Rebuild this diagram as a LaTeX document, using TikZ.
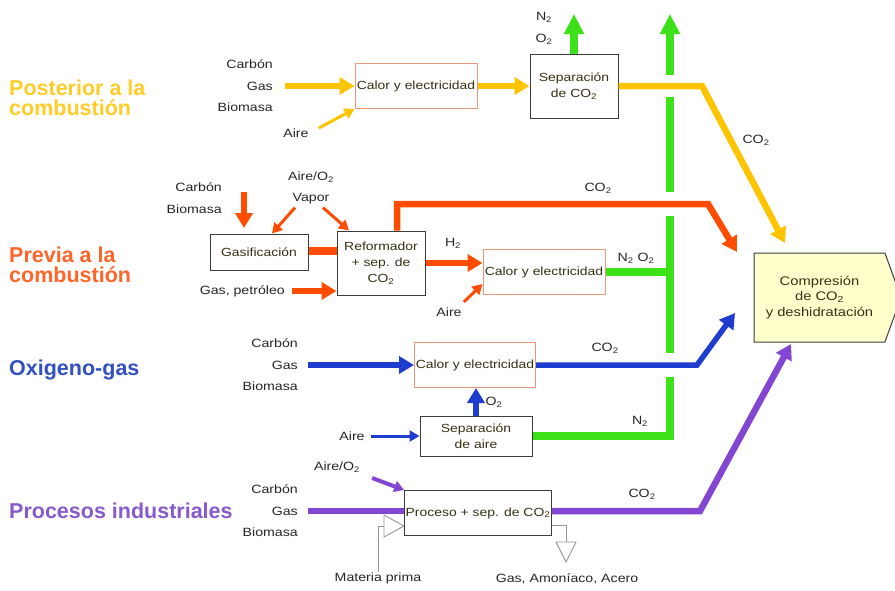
\documentclass[tikz,border=0pt]{standalone}
\usepackage{fontspec}
\setmainfont{Liberation Sans}
\newfontfamily\lblfont[FakeStretch=1.18]{Liberation Sans}
\usetikzlibrary{arrows.meta,shapes.symbols}

\definecolor{cyel}{RGB}{255,196,0}
\definecolor{cred}{RGB}{255,76,0}
\definecolor{cblue}{RGB}{30,60,205}
\definecolor{cgreen}{RGB}{60,225,25}
\definecolor{cpurp}{RGB}{130,70,210}
\definecolor{tyel}{RGB}{255,204,40}
\definecolor{tred}{RGB}{255,100,40}
\definecolor{tblue}{RGB}{50,80,190}
\definecolor{tpurp}{RGB}{135,90,205}
\definecolor{boxorange}{RGB}{235,150,120}
\definecolor{boxgray}{RGB}{60,60,60}
\definecolor{compfill}{RGB}{255,255,204}
\definecolor{boxtext}{RGB}{55,48,20}
\definecolor{feedgray}{RGB}{150,150,150}

\begin{document}
\begin{tikzpicture}[x=1pt,y=-1pt,
  title/.style={anchor=west, align=left, inner sep=0pt,
    font=\fontsize{21.5}{20}\selectfont\bfseries},
  lbl/.style={inner sep=0pt, text=black!85,
    font=\lblfont\fontsize{12}{21.5}\selectfont},
  src/.style={lbl, anchor=east, align=right},
  procbox/.style={draw=boxgray, line width=1pt, fill=white, align=center,
    inner sep=1pt, text=boxtext, font=\lblfont\fontsize{11.8}{16}\selectfont},
  heatbox/.style={procbox, draw=boxorange},
  compbox/.style={signal, signal to=east, signal pointer angle=140,
    draw=boxgray, line width=1pt, fill=compfill, align=center, text=boxtext,
    inner sep=1pt, font=\lblfont\fontsize{12.5}{15.5}\selectfont},
  flowline/.style={line width=6.5pt},
  flowarrow/.style={flowline, -{Triangle[length=15pt,width=17pt]}},
  thinarrow/.style={line width=3pt, -{Triangle[length=10pt,width=11pt]}},
  gline/.style={draw=cgreen, line width=7.5pt},
  garrow/.style={gline, -{Triangle[length=20pt,width=19pt]}},
  feedline/.style={draw=feedgray, line width=0.9pt},
  feedtri/.style={draw=feedgray, line width=0.9pt, fill=white, line join=round}]

\useasboundingbox (0,0) rectangle (895,590);

% ---------- route titles ----------
\node[title, text=tyel]  (tpost) at (9,98)  {Posterior a la\\combustión};
\node[title, text=tred]  (tpre)  at (9,265) {Previa a la\\combustión};
\node[title, text=tblue] (toxy)  at (9,370) {Oxigeno-gas};
\node[title, text=tpurp] (tind)  at (9,511) {Procesos industriales};

% ---------- process blocks ----------
\node[heatbox, minimum width=122pt, minimum height=45pt] (postce) at (416,86) {Calor y electricidad};
\node[procbox, minimum width=88pt, minimum height=64pt] (sepco) at (574,86) {Separación\\de CO\textsubscript{2}};
\node[procbox, minimum width=98pt, minimum height=36pt] (gasif) at (259,252) {Gasificación};
\node[procbox, minimum width=88pt, minimum height=64pt] (reform) at (381,263) {Reformador\\+ sep. de\\CO\textsubscript{2}};
\node[heatbox, minimum width=122pt, minimum height=45pt] (preee) at (544,272) {Calor y electricidad};
\node[heatbox, minimum width=121pt, minimum height=45pt] (oxyce) at (475,365) {Calor y electricidad};
\node[procbox, minimum width=112pt, minimum height=40pt] (sepair) at (476,436) {Separación\\de aire};
\node[procbox, minimum width=146pt, minimum height=45pt] (proc) at (478,513) {Proceso + sep. de CO\textsubscript{2}};
\node[compbox, minimum width=147pt, minimum height=89pt] (comp) at (819.5,297.5) {Compresión\\de CO\textsubscript{2}\\y deshidratación};

% ---------- feed and stream labels ----------
\node[src] (postin) at (273,86)  {Carbón\\Gas\\Biomasa};
\node[src] (prein)  at (222,198) {Carbón\\Biomasa};
\node[src] (oxyin)  at (298,365) {Carbón\\Gas\\Biomasa};
\node[src] (indin)  at (298,511) {Carbón\\Gas\\Biomasa};

\node[lbl] (postaire) at (296,133) {Aire};
\node[lbl] (n2top) at (544,17) {N\textsubscript{2}};
\node[lbl] (o2top) at (544,39) {O\textsubscript{2}};
\node[lbl] (yco2) at (756,140) {CO\textsubscript{2}};

\node[lbl, align=center] (vapor) at (311,188) {Aire/O\textsubscript{2}\\Vapor};
\node[lbl, anchor=east] (gaspet) at (285,291) {Gas, petróleo};
\node[lbl] (h2) at (453,243) {H\textsubscript{2}};
\node[lbl] (preaire) at (449,312) {Aire};
\node[lbl] (noxlbl) at (636,258) {N\textsubscript{2}\,\,O\textsubscript{2}};
\node[lbl] (rco2) at (598,188) {CO\textsubscript{2}};

\node[lbl] (o2mid) at (494,402) {O\textsubscript{2}};
\node[lbl] (oxyaire) at (352,436) {Aire};
\node[lbl] (bco2) at (605,348) {CO\textsubscript{2}};
\node[lbl] (n2low) at (640,421) {N\textsubscript{2}};

\node[lbl] (indaire) at (337,467) {Aire/O\textsubscript{2}};
\node[lbl] (pco2) at (642,494) {CO\textsubscript{2}};
\node[lbl] (matprima) at (378,578) {Materia prima};
\node[lbl] (prods) at (567,579) {Gas, Amoníaco, Acero};

% ---------- bend and end points ----------
\coordinate (sepvent) at (574,14);
\coordinate (ybend) at (702,86);
\coordinate (ytip) at (785,243);
\coordinate (rbend) at (708,204);
\coordinate (rtip) at (737,252);
\coordinate (bbend) at (697,365);
\coordinate (btip) at (735,313);
\coordinate (pbend) at (700,511);
\coordinate (ptip) at (791,344);
\coordinate (cbtop) at (244,192);
\coordinate (cbend) at (244,228);
\coordinate (gcorner) at (670,436);
\coordinate (gtop) at (670,14);
\coordinate (xy) at (670,86);
\coordinate (xr) at (670,204);
\coordinate (xb) at (670,365);
\coordinate (inapex) at (404,526);
\coordinate (outapex) at (566,562);

% ---------- vented N2 / O2 (green) ----------
\draw[garrow] (sepco.north) -- (sepvent);
\draw[gline] (preee.east) -- (preee.east -| xr);
\draw[gline] (sepair.east) -- (gcorner) -- ([yshift=-12pt]xb);
\draw[gline] ([yshift=12pt]xb) -- ([yshift=-12pt]xr);
\draw[gline] ([yshift=12pt]xr) -- ([yshift=-11pt]xy);
\draw[garrow] ([yshift=11pt]xy) -- (gtop);

% ---------- post-combustion (yellow) ----------
\draw[flowarrow, cyel] ([xshift=12pt]postin.east) -- (postce.west);
\draw[thinarrow, cyel] ([shift={(10,-5)}]postaire.east) -- (postce.south west);
\draw[flowarrow, cyel] (postce.east) -- (sepco.west);
\draw[flowarrow, cyel] (sepco.east) -- (ybend) -- (ytip);

% ---------- pre-combustion (red) ----------
\draw[flowarrow, cred] (cbtop) -- (cbend);
\draw[thinarrow, cred] ([shift={(-16,3)}]vapor.south) -- ([xshift=13pt]gasif.north);
\draw[thinarrow, cred] ([shift={(12,3)}]vapor.south) -- ([xshift=-32pt]reform.north);
\draw[flowline, cred, line width=7.5pt] ([yshift=1pt]gasif.east) -- ([yshift=1pt]gasif.east -| reform.west);
\draw[flowarrow, cred] ([xshift=7pt]gaspet.east) -- (gaspet.east -| reform.west);
\draw[flowarrow, cred] (reform.east) -- (reform.east -| preee.west);
\draw[thinarrow, cred] ([shift={(2,-10)}]preaire.east) -- ([yshift=-12pt]preee.west);
\draw[flowarrow, cred] ([xshift=16pt]reform.north) |- (rbend) -- (rtip);

% ---------- oxy-fuel (blue) ----------
\draw[flowarrow, cblue] ([xshift=10pt]oxyin.east) -- (oxyce.west);
\draw[flowarrow, cblue, line width=5.5pt] (oxyce.east) -- (bbend) -- (btip);
\draw[flowarrow, cblue] (sepair.north) -- (sepair.north |- oxyce.south);
\draw[thinarrow, cblue] ([xshift=6pt]oxyaire.east) -- (sepair.west);

% ---------- industrial processes (purple) ----------
\draw[flowline, cpurp] ([xshift=10pt]indin.east) -- (indin.east -| proc.west);
\draw[flowarrow, cpurp] (indin.east -| proc.east) -- (pbend) -- (ptip);
\draw[thinarrow, cpurp, line width=4pt] ([shift={(12,11)}]indaire.east) -- (proc.north west);

% raw material in, products out
\draw[feedline] (matprima.north) |- ([xshift=-20pt]inapex);
\draw[feedtri] (inapex) -- ++(-20,-11) -- ++(0,22) -- cycle;
\draw[feedline] ([yshift=-12pt]proc.east) -| ([yshift=20pt]outapex);
\draw[feedtri] (outapex) -- ++(-10,-20) -- ++(20,0) -- cycle;

\end{tikzpicture}
\end{document}
